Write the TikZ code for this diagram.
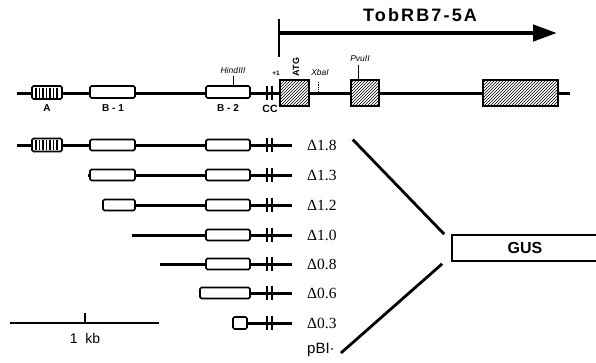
\documentclass[tikz,border=0pt]{standalone}
\usepackage{fontspec}
\setmainfont{Liberation Serif}
\setsansfont{Liberation Sans}
\usetikzlibrary{arrows.meta,positioning,patterns}

\begin{document}
\begin{tikzpicture}[x=1pt,y=-1pt,>=Triangle,
  dna/.style={line width=3pt},
  exon/.style={draw,line width=1.6pt,fill=white,rounded corners=1.5pt,inner sep=0pt},
  hatchbox/.style={draw,line width=1.6pt,fill=white,postaction={pattern=north east lines},inner sep=0pt,minimum height=26pt},
  ccbar/.style={line width=2.6pt},
  lbl/.style={font=\sffamily\bfseries\fontsize{10}{12}\selectfont,inner sep=0pt},
  site/.style={font=\sffamily\itshape\fontsize{8.5}{10}\selectfont,inner sep=0pt},
  dlabel/.style={font=\fontsize{15.5}{18}\selectfont,anchor=west,inner sep=0pt},
  fan/.style={line width=2.8pt}]
\useasboundingbox (0,0) rectangle (596,362);

% gene map
\draw[dna] (17,93) -- (570,93);
\node[exon,minimum width=30pt,minimum height=13pt] (boxA) at (47,92.5) {};
\node[exon,minimum width=45pt,minimum height=12pt] (boxB1) at (112.5,92) {};
\node[exon,minimum width=44pt,minimum height=12pt] (boxB2) at (228,92) {};
\draw[ccbar] (267,86) -- (267,100);
\draw[ccbar] (272,86) -- (272,100);
\node[hatchbox,minimum width=29pt] (atg) at (294.5,93) {};
\node[hatchbox,minimum width=28pt] (pvu) at (365,93) {};
\node[hatchbox,minimum width=75pt] (ex3) at (520.5,93) {};
\node[lbl] at (47,108) {A};
\node[lbl] at (113,108) {B - 1};
\node[lbl] at (228,108) {B - 2};
\node[lbl,font=\sffamily\bfseries\fontsize{10.5}{12}\selectfont] at (270,109) {CC};

% sites
\draw[line width=1pt] (233,76) -- (boxB2.north -| 233,0);
\node[site] at (233,70) {Hind\/III};
\draw[line width=0.7pt,densely dotted] (318,82) -- (318,93);
\node[site] at (320,72) {XbaI};
\draw[line width=1pt] (358,65) -- (pvu.north -| 358,0);
\node[site] at (360,59) {PvuII};
\node[lbl,font=\sffamily\bfseries\fontsize{6.5}{7}\selectfont] at (276,73) {+1};
\node[lbl,font=\sffamily\bfseries\fontsize{9}{10}\selectfont,rotate=90] at (296,67) {ATG};

% transcript
\coordinate (tss) at (279,57);
\draw[line width=1.2pt] (tss) -- (279,19);
\draw[line width=4.5pt,-{Triangle[length=24pt,width=16pt]}] (279,33) -- (557,33);
\node[font=\sffamily\bfseries\fontsize{18}{20}\selectfont\addfontfeature{LetterSpace=12}] (tob) at (420,15) {TobRB7-5A};

% deletion series
\foreach \y/\xs in {145/17,175/88,205/120,235/132,264/160,293/220,323/240}
  \draw[dna] (\xs,\y) -- (292,\y);
\foreach \y in {145,175,205,235,264,293,323} {
  \draw[ccbar] (267,\y-7) -- (267,\y+7);
  \draw[ccbar] (272,\y-7) -- (272,\y+7);
}
\node[exon,minimum width=30pt,minimum height=13pt] (r1a) at (47,145) {};
\foreach \y in {92.5,145}
  \foreach \x in {36,39.5,...,59}
    \draw[line width=1.1pt] (\x,\y-5) -- (\x,\y+5);
\node[exon,minimum width=45pt,minimum height=11pt] (r1b1) at (112.5,145) {};
\node[exon,minimum width=45pt,minimum height=11pt] (r2b1) at (112.5,175) {};
\node[exon,minimum width=32pt,minimum height=11pt] (r3b1) at (119,205) {};
\foreach \y/\n in {145/1,175/2,205/3,235/4,264/5}
  \node[exon,minimum width=44pt,minimum height=11pt] (r\n b2) at (228,\y) {};
\node[exon,minimum width=50pt,minimum height=11pt] (r6b2) at (225,293) {};
\node[exon,minimum width=14pt,minimum height=12pt] (r7b2) at (240,323) {};

\node[dlabel] (d18) at (307,145) {Δ1.8};
\node[dlabel] (d13) at (307,175) {Δ1.3};
\node[dlabel] (d12) at (307,205) {Δ1.2};
\node[dlabel] (d10) at (307,235) {Δ1.0};
\node[dlabel] (d08) at (307,264) {Δ0.8};
\node[dlabel] (d06) at (307,293) {Δ0.6};
\node[dlabel] (d03) at (307,323) {Δ0.3};
\node[dlabel,font=\sffamily\fontsize{15}{18}\selectfont] (pbi) at (307,350) {pBI\textperiodcentered};

% reporter
\node[draw,line width=1.6pt,minimum width=146pt,minimum height=26pt,inner sep=0pt,
  font=\sffamily\bfseries\fontsize{16}{18}\selectfont] (gus) at (525,248) {GUS};
\draw[fan] ([xshift=16pt]d18.north east) -- ([xshift=-7pt]gus.north west);
\draw[fan] ([xshift=-9pt,yshift=-2pt]gus.south west) -- ([xshift=6pt,yshift=-3pt]pbi.east);

% scale bar
\draw[line width=2.4pt] (10,323) -- (159,323);
\draw[line width=2.4pt] (85,323) -- (85,313);
\node[font=\sffamily\fontsize{14}{16}\selectfont] (kb) at (85,338) {1~~kb};
\end{tikzpicture}
\end{document}
